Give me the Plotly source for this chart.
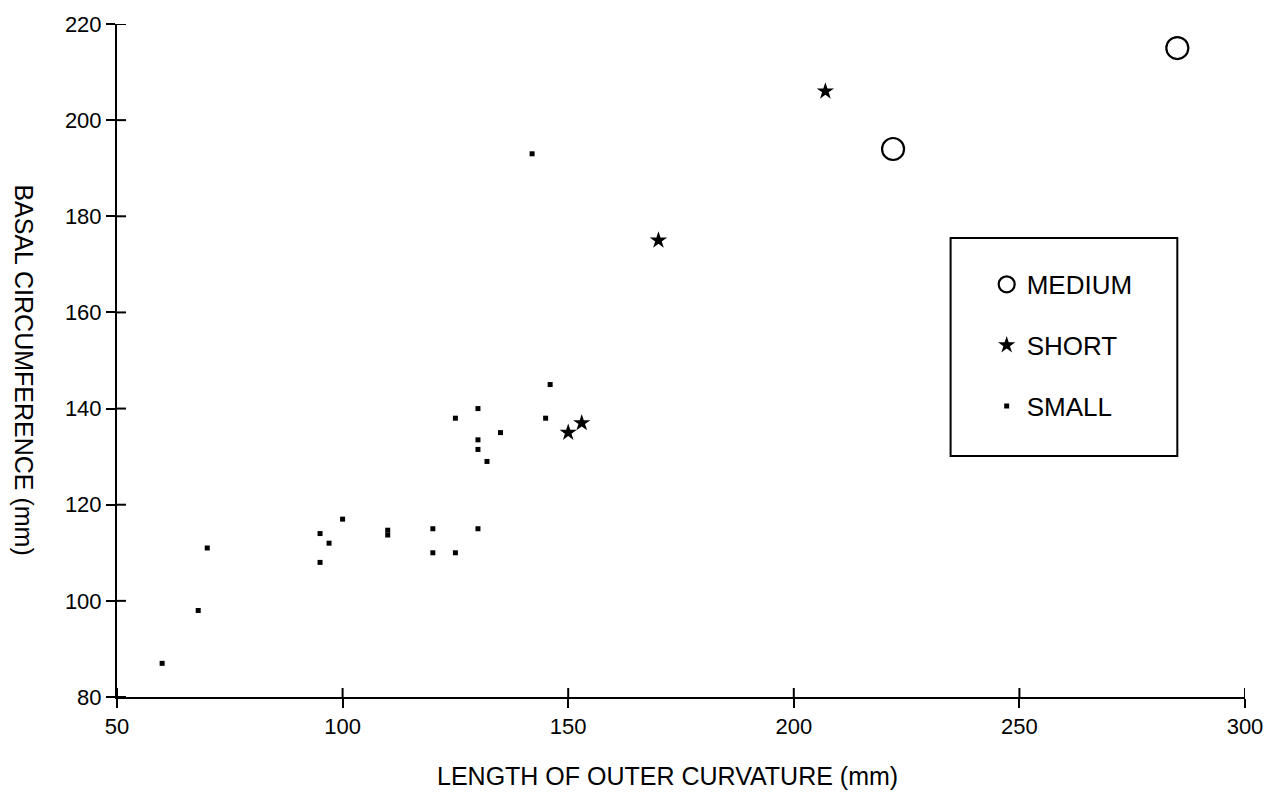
import plotly.graph_objects as go

# Basal circumference vs. length of outer curvature, by horn class
medium_x = [222, 285]
medium_y = [194, 215]

short_x = [150, 153, 170, 207]
short_y = [135, 137, 175, 206]

small_x = [60, 68, 70, 95, 95, 97, 100, 110, 110, 120, 120, 125, 125,
           130, 130, 130, 130, 132, 135, 142, 145, 146]
small_y = [87, 98, 111, 114, 108, 112, 117, 114.7, 113.7, 115, 110, 110, 138,
           115, 140, 133.5, 131.5, 129, 135, 193, 138, 145]

x_ticks = [50, 100, 150, 200, 250, 300]
y_ticks = [80, 100, 120, 140, 160, 180, 200, 220]

X_RANGE = [50, 300]
Y_RANGE = [80, 220]

FONT = "Liberation Sans, Arial, Helvetica, sans-serif"
INK = "black"
TICK_HALF = 9  # px on each side of the axis line

fig = go.Figure()

fig.add_trace(go.Scatter(
    x=medium_x, y=medium_y, mode="markers", name="MEDIUM", legendgroup="m",
    marker=dict(symbol="circle-open", size=22, color=INK, line=dict(width=2.2, color=INK)),
))
fig.add_trace(go.Scatter(
    x=short_x, y=short_y, mode="markers", name="SHORT", legendgroup="s",
    marker=dict(symbol="star", size=13, color=INK, line=dict(width=0)),
))
fig.add_trace(go.Scatter(
    x=small_x, y=small_y, mode="markers", name="SMALL", legendgroup="sm",
    marker=dict(symbol="square", size=5, color=INK, line=dict(width=0)),
))

# outer half of each tick comes from the axis itself
axis_common = dict(
    showgrid=False, zeroline=False, showline=True, linecolor=INK, linewidth=2,
    ticks="outside", ticklen=TICK_HALF, tickwidth=2, tickcolor=INK,
    tickfont=dict(family=FONT, size=22, color=INK),
)

# inner half of each tick: short segments pointing into the plot area
tick_shapes = []
for v in x_ticks:
    tick_shapes.append(dict(
        type="line", xref="x", x0=v, x1=v,
        yref="paper", ysizemode="pixel", yanchor=0, y0=0, y1=TICK_HALF,
        line=dict(color=INK, width=2),
    ))
for v in y_ticks:
    tick_shapes.append(dict(
        type="line", yref="y", y0=v, y1=v,
        xref="paper", xsizemode="pixel", xanchor=0, x0=0, x1=TICK_HALF,
        line=dict(color=INK, width=2),
    ))

legend_box = dict(type="rect", xref="paper", yref="paper",
                  x0=0.739, x1=0.940, y0=0.358, y1=0.682,
                  line=dict(color=INK, width=2), fillcolor="rgba(0,0,0,0)")

fig.update_layout(
    width=1275, height=792,
    paper_bgcolor="white", plot_bgcolor="white",
    margin=dict(l=117, r=24, t=24, b=95),
    font=dict(family=FONT, color=INK),
    xaxis=dict(range=X_RANGE, tickvals=x_ticks, **axis_common),
    yaxis=dict(range=Y_RANGE, tickvals=y_ticks, **axis_common),
    showlegend=True,
    legend=dict(
        x=0.771, y=0.648, xanchor="left", yanchor="top",
        bgcolor="rgba(0,0,0,0)", borderwidth=0,
        traceorder="grouped", tracegroupgap=24,
        font=dict(family=FONT, size=26, color=INK),
    ),
    shapes=tick_shapes + [legend_box],
    annotations=[
        dict(text="LENGTH OF OUTER CURVATURE (mm)", xref="paper", yref="paper",
             x=0.4877, y=-0.1174, xanchor="center", yanchor="middle",
             showarrow=False, font=dict(family=FONT, size=25, color=INK)),
        dict(text="BASAL CIRCUMFERENCE (mm)", xref="paper", yref="paper",
             x=-0.082, y=0.486, xanchor="center", yanchor="middle", textangle=90,
             showarrow=False, font=dict(family=FONT, size=25, color=INK)),
    ],
)

fig.write_html("out.html")
